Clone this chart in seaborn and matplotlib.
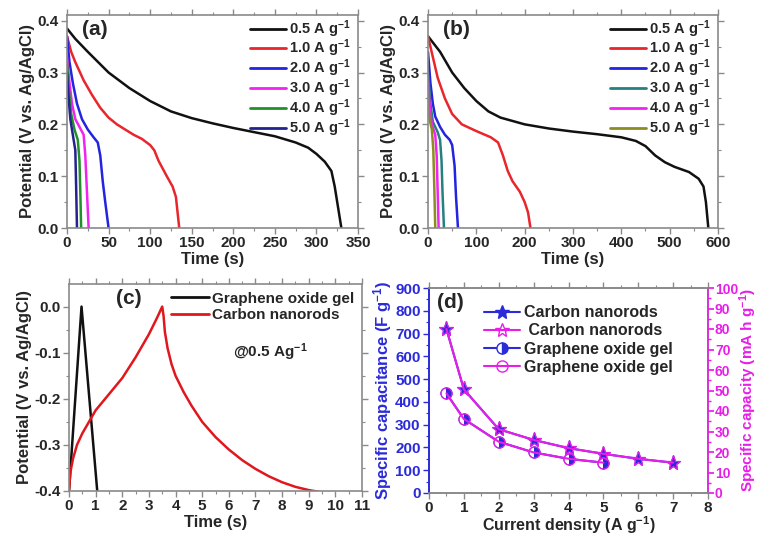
import numpy as np
import pandas as pd
import matplotlib
matplotlib.use("Agg")
import matplotlib.pyplot as plt
from matplotlib.ticker import MultipleLocator
from matplotlib.lines import Line2D
import seaborn as sns

# ---------------- data ----------------
rate_labels = ["0.5", "1.0", "2.0", "3.0", "4.0", "5.0"]

# panel (a) discharge curves: time (s), potential (V)
a_t = [
    [0, 10, 25, 50, 75, 100, 125, 150, 175, 200, 225, 250, 275, 290, 300, 310, 318, 322, 326, 330],
    [0, 5, 10, 20, 30, 40, 50, 60, 70, 80, 90, 100, 105, 110, 115, 120, 127, 131, 133, 135],
    [0, 3, 7, 12, 18, 25, 32, 37, 40, 43, 46, 50],
    [0, 3, 6, 10, 15, 20, 22, 24, 26],
    [0, 2, 5, 9, 13, 15, 16, 17],
    [0, 2, 4, 7, 10, 11, 12],
]
a_v = [
    [0.385, 0.365, 0.34, 0.30, 0.27, 0.245, 0.225, 0.212, 0.202, 0.193, 0.185, 0.177, 0.165, 0.155, 0.143, 0.128, 0.11, 0.08, 0.04, 0.0],
    [0.37, 0.34, 0.32, 0.285, 0.257, 0.232, 0.213, 0.20, 0.19, 0.18, 0.172, 0.16, 0.15, 0.13, 0.115, 0.10, 0.08, 0.06, 0.03, 0.0],
    [0.37, 0.32, 0.28, 0.24, 0.21, 0.19, 0.175, 0.165, 0.14, 0.09, 0.05, 0.0],
    [0.33, 0.28, 0.24, 0.21, 0.195, 0.18, 0.14, 0.07, 0.0],
    [0.32, 0.27, 0.22, 0.19, 0.17, 0.13, 0.07, 0.0],
    [0.30, 0.25, 0.21, 0.18, 0.15, 0.08, 0.0],
]
a_colors = ["#111111", "#e8262b", "#2323e0", "#f024f0", "#22902a", "#23238f"]

# panel (b) discharge curves
b_t = [
    [0, 25, 50, 75, 100, 125, 150, 200, 250, 300, 350, 400, 430, 450, 470, 490, 510, 540, 560, 570, 575, 578, 580],
    [0, 10, 20, 35, 50, 70, 100, 130, 145, 155, 165, 175, 190, 200, 207, 212],
    [0, 5, 10, 15, 25, 35, 45, 50, 55, 58, 62],
    [0, 5, 10, 20, 25, 28, 30, 33],
    [0, 4, 8, 15, 18, 20, 22],
    [0, 3, 8, 11, 13, 15],
]
b_v = [
    [0.37, 0.34, 0.30, 0.27, 0.245, 0.225, 0.213, 0.200, 0.192, 0.186, 0.181, 0.175, 0.168, 0.158, 0.14, 0.127, 0.118, 0.108, 0.095, 0.08, 0.05, 0.02, 0.0],
    [0.37, 0.33, 0.29, 0.25, 0.22, 0.20, 0.187, 0.175, 0.165, 0.14, 0.11, 0.09, 0.07, 0.05, 0.03, 0.0],
    [0.34, 0.28, 0.24, 0.215, 0.195, 0.18, 0.17, 0.16, 0.12, 0.06, 0.0],
    [0.30, 0.24, 0.205, 0.185, 0.17, 0.13, 0.07, 0.0],
    [0.28, 0.23, 0.20, 0.18, 0.14, 0.07, 0.0],
    [0.25, 0.21, 0.19, 0.15, 0.08, 0.0],
]
b_colors = ["#111111", "#e8262b", "#2323e0", "#268080", "#f024f0", "#8c8c22"]

# panel (c) charge-discharge at 0.5 A/g
c_go_t = [0, 0.47, 1.06]
c_go_v = [-0.4, 0.0, -0.4]
c_cn_t = [0, 0.05, 0.15, 0.3, 0.5, 0.8, 1.0, 1.5, 2.0, 2.5, 3.0, 3.3, 3.5, 3.55, 3.6, 3.7, 3.85, 4.0, 4.3, 4.6, 5.0, 5.5, 6.0, 6.5, 7.0, 7.5, 8.0, 8.5, 9.0, 9.4]
c_cn_v = [-0.4, -0.36, -0.33, -0.30, -0.275, -0.245, -0.225, -0.19, -0.155, -0.11, -0.06, -0.025, 0.0, -0.02, -0.055, -0.09, -0.125, -0.15, -0.185, -0.215, -0.25, -0.283, -0.31, -0.333, -0.352, -0.368, -0.381, -0.391, -0.398, -0.402]

# panel (d) rate performance
d_cn_x = [0.5, 1, 2, 3, 4, 5, 6, 7]
d_cn_cap = [720, 455, 280, 233, 197, 172, 150, 133]          # F/g
d_cn_q = [80, 50.5, 31.1, 25.9, 21.9, 19.1, 16.7, 14.8]      # mA h/g
d_go_x = [0.5, 1, 2, 3, 4, 5]
d_go_cap = [437, 325, 225, 178, 150, 133]
d_go_q = [48.6, 36.1, 25.0, 19.8, 16.7, 14.8]

# ---------------- style ----------------
sns.set_theme(style="ticks")
plt.rcParams["font.family"] = ["Liberation Sans", "DejaVu Sans"]
plt.rcParams["font.weight"] = "bold"
plt.rcParams["axes.labelweight"] = "bold"
plt.rcParams["mathtext.default"] = "regular"
plt.rcParams["axes.unicode_minus"] = False
plt.rcParams["axes.edgecolor"] = "#8a8a8a"
plt.rcParams["axes.linewidth"] = 1.2

SPINE = "#8a8a8a"
TK = 11
LBL = 12
BLUE = "#2b2bd9"
MAG = "#e81ee8"

fig = plt.figure(figsize=(7.58, 5.35), dpi=100)
W, H = 758, 535


def add_ax(l, r, t, b):
    return fig.add_axes([l / W, (H - b) / H, (r - l) / W, (b - t) / H])


def style_ax(ax, xmaj, xmin, ymaj, ymin):
    ax.xaxis.set_major_locator(MultipleLocator(xmaj))
    ax.xaxis.set_minor_locator(MultipleLocator(xmin))
    ax.yaxis.set_major_locator(MultipleLocator(ymaj))
    ax.yaxis.set_minor_locator(MultipleLocator(ymin))
    ax.tick_params(which="major", length=4, width=1, color=SPINE, labelsize=TK, pad=2)
    ax.tick_params(which="minor", length=2, width=0.8, color=SPINE)
    ax.tick_params(which="both", top=True, right=True, direction="out")


def style_legend(leg, lw=2):
    for txt in leg.get_texts():
        txt.set_fontweight("bold")
    for h in leg.get_lines():
        h.set_linewidth(lw)


def draw_panel(ax, ts, vs, colors, xmax):
    for t, v, c, lab in zip(ts, vs, colors, rate_labels):
        sns.lineplot(x=t, y=v, ax=ax, color=c, lw=1.8, sort=False, estimator=None,
                     label=lab + r" A g$\mathregular{^{-1}}$")
    ax.set_xlim(0, xmax)
    ax.set_ylim(0, 0.411)
    ax.set_xlabel("Time (s)", fontsize=LBL, labelpad=1)
    ax.set_ylabel("Potential (V vs. Ag/AgCl)", fontsize=LBL, labelpad=2)
    leg = ax.legend(loc="upper right", frameon=False, fontsize=10.5, handlelength=2.5,
                    handletextpad=0.2, labelspacing=-0.12, borderaxespad=0.1,
                    bbox_to_anchor=(1.0, 1.02))
    style_legend(leg)


# (a)
ax_a = add_ax(67, 358, 15, 228)
draw_panel(ax_a, a_t, a_v, a_colors, 350)
style_ax(ax_a, 50, 25, 0.1, 0.05)
ax_a.text(0.05, 0.975, "(a)", transform=ax_a.transAxes, fontsize=15, fontweight="bold", va="top")

# (b)
ax_b = add_ax(428, 718, 15, 228)
draw_panel(ax_b, b_t, b_v, b_colors, 600)
style_ax(ax_b, 100, 50, 0.1, 0.05)
ax_b.text(0.05, 0.975, "(b)", transform=ax_b.transAxes, fontsize=15, fontweight="bold", va="top")

# (c)
ax_c = add_ax(69, 362, 284, 491)
sns.lineplot(x=c_go_t, y=c_go_v, ax=ax_c, color="#111111", lw=1.8, sort=False, estimator=None,
             label="Graphene oxide gel")
sns.lineplot(x=c_cn_t, y=c_cn_v, ax=ax_c, color="#e0181e", lw=1.8, sort=False, estimator=None,
             label="Carbon nanorods")
ax_c.set_xlim(0, 11)
ax_c.set_ylim(-0.4, 0.049)
ax_c.set_xlabel("Time (s)", fontsize=LBL, labelpad=1)
ax_c.set_ylabel("Potential (V vs. Ag/AgCl)", fontsize=LBL, labelpad=2)
style_ax(ax_c, 1, 0.5, 0.1, 0.05)
leg = ax_c.legend(loc="upper right", frameon=False, fontsize=11, handlelength=2.5,
                  handletextpad=0.2, labelspacing=0.15, borderaxespad=0.1)
style_legend(leg)
ax_c.text(0.16, 0.975, "(c)", transform=ax_c.transAxes, fontsize=15, fontweight="bold", va="top")
ax_c.text(7.55, -0.098, r"@0.5 Ag$\mathregular{^{-1}}$", fontsize=11, fontweight="bold",
          ha="center", va="center")

# (d)
ax_d = add_ax(429, 708, 288, 493)
ax_r = ax_d.twinx()
sns.lineplot(x=d_cn_x, y=d_cn_cap, ax=ax_d, color=BLUE, lw=1.5, marker="*", markersize=11,
             markerfacecolor=BLUE, markeredgecolor=BLUE, sort=False, estimator=None, legend=False)
sns.lineplot(x=d_go_x, y=d_go_cap, ax=ax_d, color=BLUE, lw=1.5, marker="o", markersize=8,
             fillstyle="right", markerfacecolor=BLUE, markerfacecoloralt="white",
             markeredgecolor=BLUE, sort=False, estimator=None, legend=False)
sns.lineplot(x=d_cn_x, y=d_cn_q, ax=ax_r, color=MAG, lw=1.5, marker="*", markersize=11,
             markerfacecolor="none", markeredgecolor=MAG, markeredgewidth=0.9,
             sort=False, estimator=None, legend=False)
sns.lineplot(x=d_go_x, y=d_go_q, ax=ax_r, color=MAG, lw=1.5, marker="o", markersize=8,
             markerfacecolor="none", markeredgecolor=MAG, markeredgewidth=0.9,
             sort=False, estimator=None, legend=False)
ax_d.set_xlim(0, 8)
ax_d.set_ylim(0, 900)
ax_r.set_ylim(0, 100)
style_ax(ax_d, 1, 0.5, 100, 50)
ax_d.tick_params(which="both", right=False)
ax_d.tick_params(axis="y", which="both", colors=BLUE, labelcolor=BLUE)
ax_d.spines["left"].set_color(BLUE)
ax_r.spines["right"].set_color(MAG)
ax_r.spines["left"].set_color(BLUE)
ax_r.yaxis.set_major_locator(MultipleLocator(10))
ax_r.yaxis.set_minor_locator(MultipleLocator(5))
ax_r.tick_params(axis="y", which="major", length=4, colors=MAG, labelcolor=MAG, labelsize=10, pad=1)
ax_r.tick_params(axis="y", which="minor", length=2, colors=MAG)
ax_d.set_xlabel(r"Current density (A g$\mathregular{^{-1}}$)", fontsize=11.5, labelpad=-1)
ax_d.set_ylabel(r"Specific capacitance (F g$\mathregular{^{-1}}$)", fontsize=LBL, color=BLUE, labelpad=1)
ax_r.set_ylabel(r"Specific capacity (mA h g$\mathregular{^{-1}}$)", fontsize=11, color=MAG)
ax_r.yaxis.set_label_coords(1.105, 0.5)
ax_r.set_xlabel("")

handles = [
    Line2D([], [], color=BLUE, lw=1.5, marker="*", markersize=10, markerfacecolor=BLUE, markeredgecolor=BLUE),
    Line2D([], [], color=MAG, lw=1.5, marker="*", markersize=10, markerfacecolor="none", markeredgecolor=MAG),
    Line2D([], [], color=BLUE, lw=1.5, marker="o", markersize=8, fillstyle="right",
           markerfacecolor=BLUE, markerfacecoloralt="white", markeredgecolor=BLUE),
    Line2D([], [], color=MAG, lw=1.5, marker="o", markersize=8, markerfacecolor="none", markeredgecolor=MAG),
]
labels = ["Carbon nanorods", " Carbon nanorods", "Graphene oxide gel", "Graphene oxide gel"]
leg = ax_r.legend(handles, labels, loc="upper left", bbox_to_anchor=(0.17, 0.955), frameon=False,
                  fontsize=11.5, handlelength=2.2, handletextpad=0.3, labelspacing=0.2,
                  borderaxespad=0.1)
style_legend(leg, lw=1.5)
ax_r.text(0.03, 0.975, "(d)", transform=ax_d.transAxes, fontsize=15, fontweight="bold", va="top")

fig.canvas.draw()
for ax in [ax_a, ax_b, ax_c, ax_d, ax_r]:
    for lab in ax.get_xticklabels() + ax.get_yticklabels():
        lab.set_fontweight("bold")

fig.savefig("out.png", dpi=100)
